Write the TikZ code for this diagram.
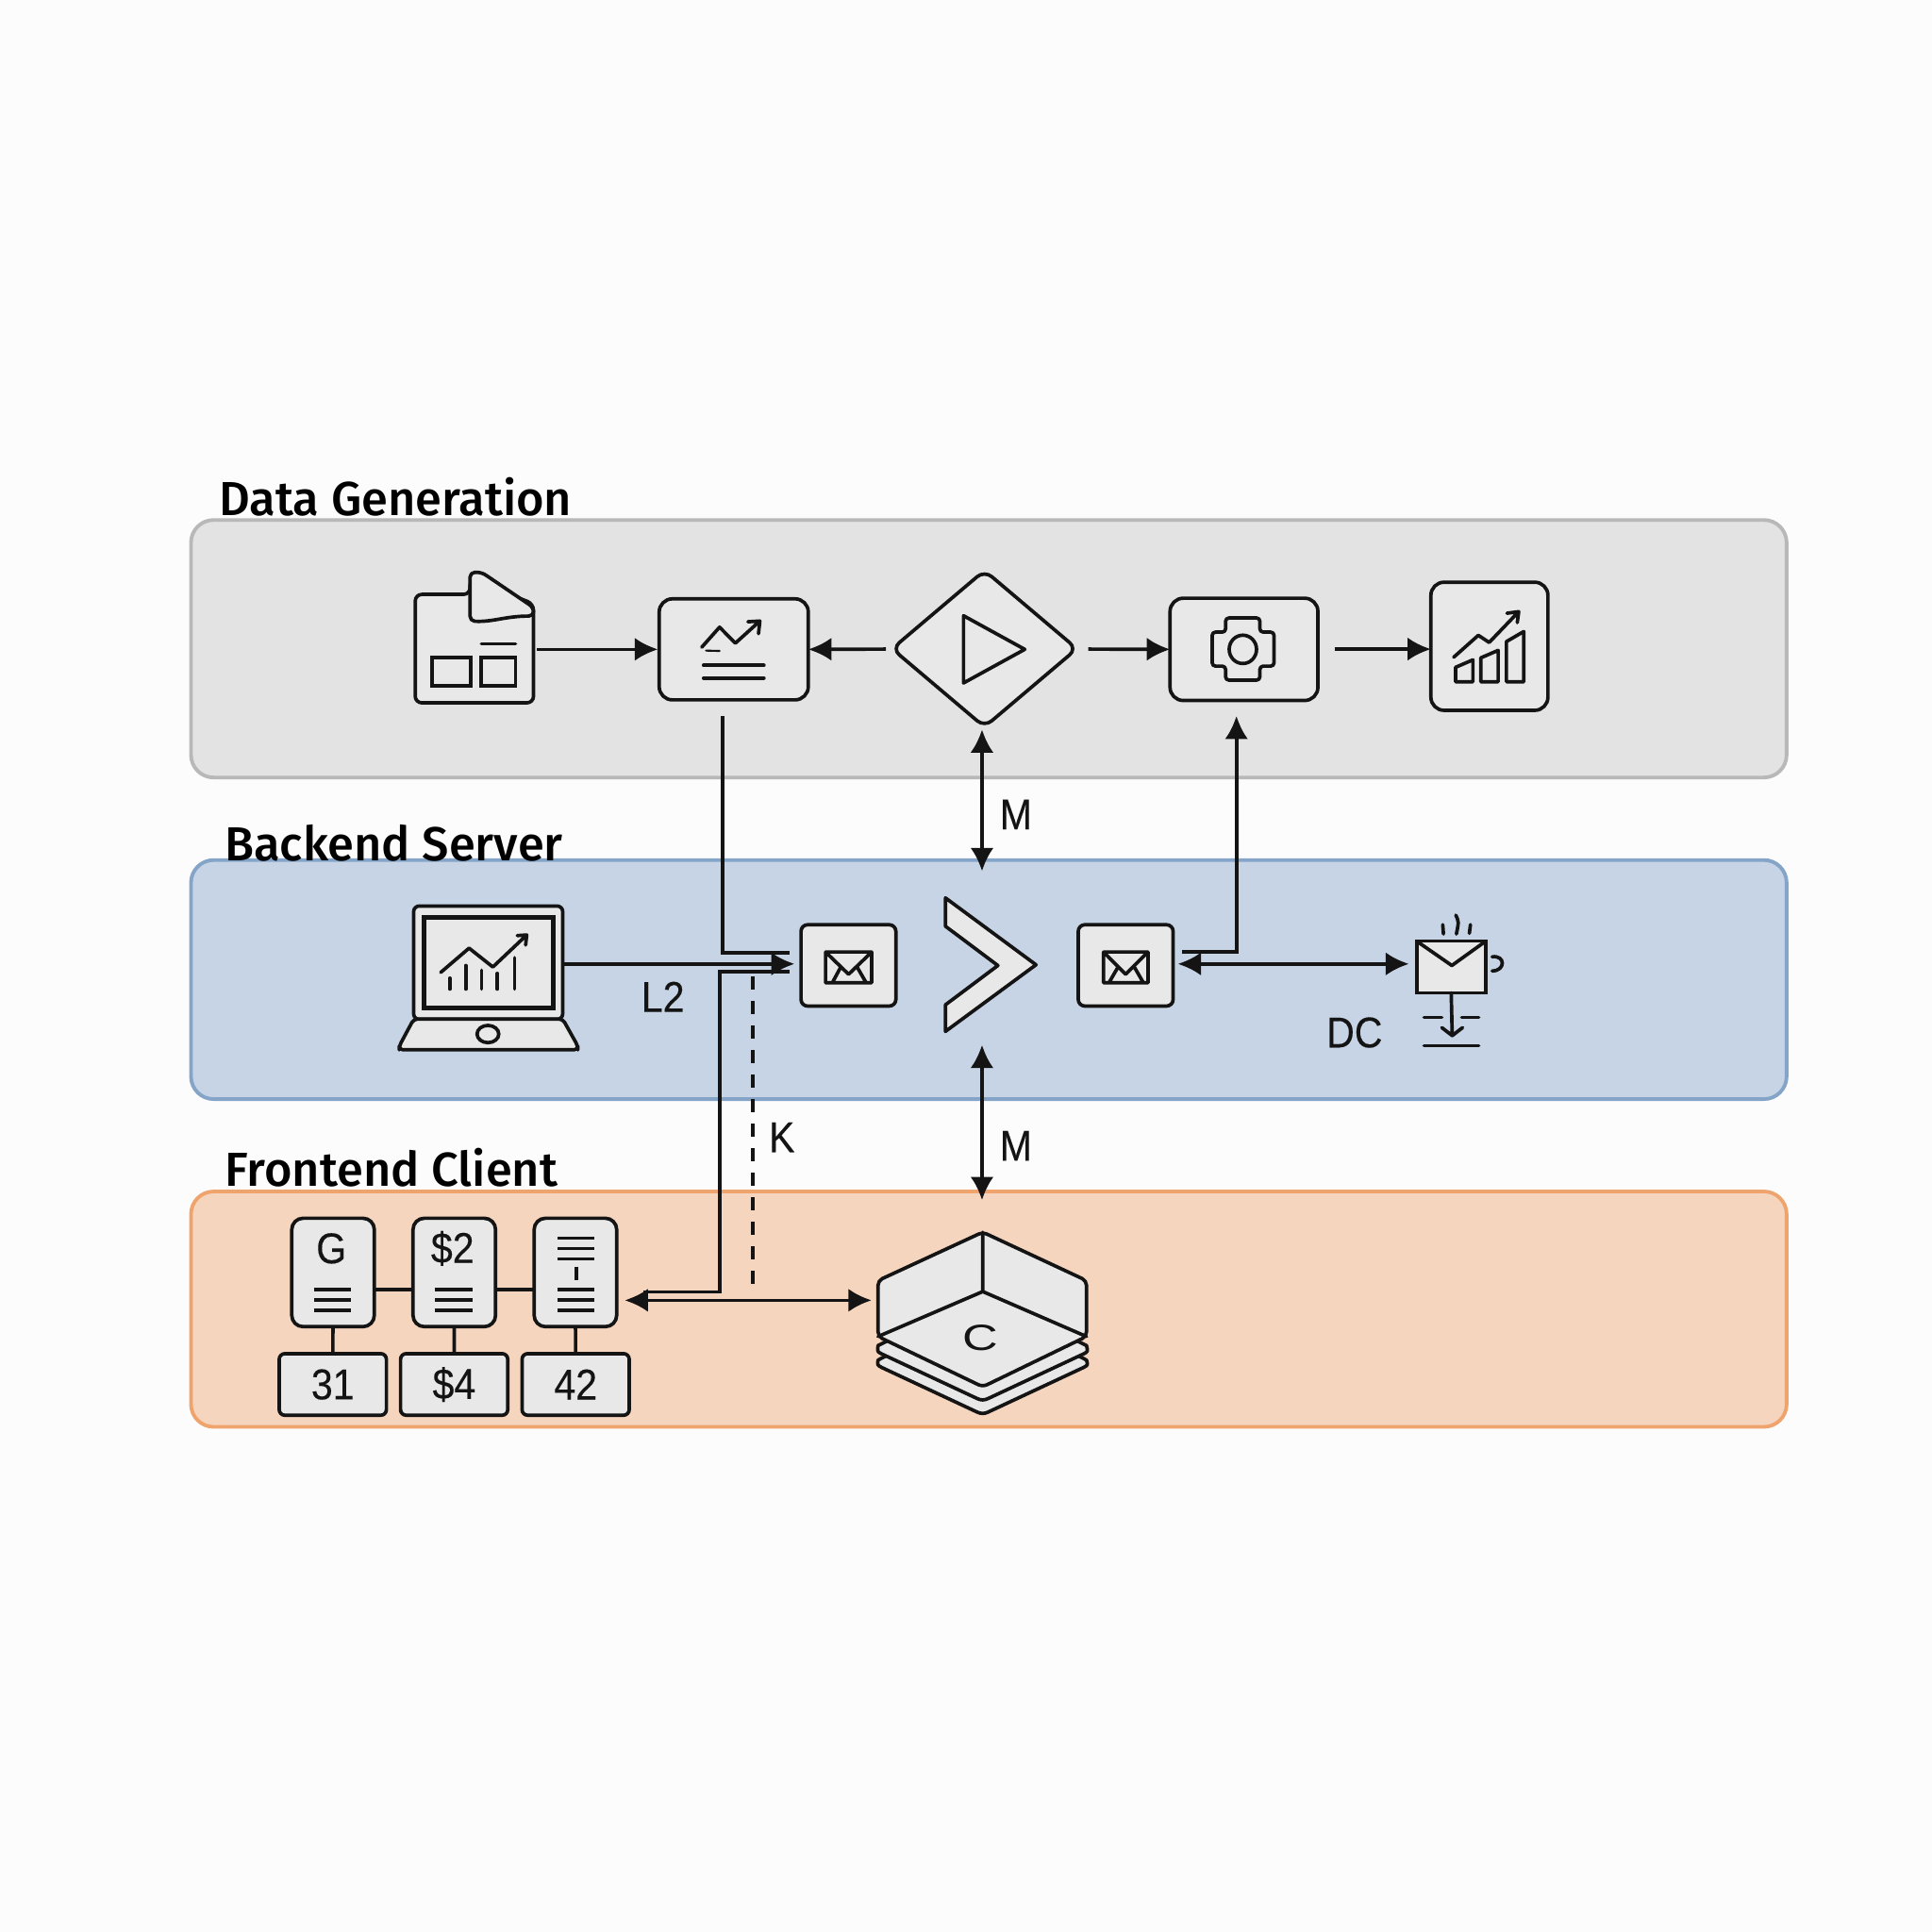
\documentclass[tikz,border=0pt]{standalone}
\usepackage{fontspec}
\setmainfont{Liberation Sans}
\newfontfamily\headfont{Fira Sans Medium}
\newfontfamily\labelfont[FakeStretch=0.9,FakeBold=0.2]{Liberation Sans}
\usetikzlibrary{positioning,shapes.geometric,arrows.meta}
\def\unitpx{0.01306cm}
\definecolor{ink}{HTML}{141414}
\definecolor{paper}{HTML}{E8E8E8}
\definecolor{dataFill}{HTML}{E3E3E3}
\definecolor{dataLine}{HTML}{B8B8B8}
\definecolor{backFill}{HTML}{C6D4E5}
\definecolor{backLine}{HTML}{85A5C8}
\definecolor{frontFill}{HTML}{F6D5BE}
\definecolor{frontLine}{HTML}{EFA46E}
\begin{document}
\begin{tikzpicture}[
  x=\unitpx,y=-\unitpx,
  ink,line width=1.05pt,
  band/.style={draw,line width=1.1pt,rounded corners=0.24cm,outer sep=0pt,inner sep=0pt,anchor=north west,minimum width=1295*\unitpx},
  title/.style={anchor=west,inner sep=0pt,text=black,font=\fontsize{14.4}{16}\headfont},
  tag/.style={inner sep=0pt,font=\fontsize{13}{14}\labelfont},
  tile/.style={draw=ink,fill=paper,rounded corners=0.14cm,inner sep=0pt,outer sep=0pt},
  card/.style={tile,rounded corners=0.12cm,minimum width=67*\unitpx,minimum height=88*\unitpx},
  amount/.style={tile,rounded corners=0.06cm,minimum width=87*\unitpx,minimum height=50*\unitpx,font=\fontsize{13}{14}\labelfont},
  mailbox/.style={tile,rounded corners=0.07cm,minimum width=77*\unitpx,minimum height=66*\unitpx},
  flow/.style={-{Latex[length=7pt,width=7pt]}},
  both/.style={{Latex[length=7pt,width=7pt]}-{Latex[length=7pt,width=7pt]}},
  glyph/.style={line cap=round,line join=round}
]
\useasboundingbox (0,0) rectangle (1568,1568);
\fill[white!99!black] (0,0) rectangle (1568,1568);
% the three bands
\node[band,draw=dataLine,fill=dataFill,minimum height=209*\unitpx] (bandData) at (155,422) {};
\node[band,draw=backLine,fill=backFill,minimum height=194*\unitpx] (bandBack) at (155,698) {};
\node[band,draw=frontLine,fill=frontFill,minimum height=191*\unitpx] (bandFront) at (155,967) {};
\node[title] (titleData) at (176.5,403.5) {Data Generation};
\node[title] (titleBack) at (181,684.5) {Backend Server};
\node[title] (titleFront) at (181.5,947.5) {Frontend Client};

% data generation row
\node[inner sep=0pt,outer sep=0pt,minimum width=96*\unitpx,minimum height=88*\unitpx] (sheet) at (385,526.5) {};
\draw[fill=paper,glyph,rounded corners=0.07cm] (381.5,482.4) -- (337,482.4) -- (337,570.4) -- (433,570.4) -- (433,490) -- (381.5,470) -- cycle;
\draw[fill=paper,glyph,rounded corners=0.05cm] (381.5,482.5) -- (381.5,464.5) -- (391,464.5) -- (433,493) -- (433,500) .. controls (410,500) and (400,505) .. (381.5,504) -- cycle;
\draw (350.7,533.4) rectangle (382.2,556.4) (390.7,533.4) rectangle (418.4,556.4);
\draw[glyph] (390.7,522.5) -- (418.4,522.5);
\node[tile,minimum width=121*\unitpx,minimum height=82*\unitpx] (report) at (595.5,527) {};
\draw[glyph] (569.5,525.3) -- (584,509) -- (596.8,522) -- (616.7,504) (607,504.6) -- (616.7,504) -- (615.6,514.3);
\draw[glyph,line width=0.6pt] (573,528) -- (584,528.3);
\draw[glyph] (571,540) -- (620,540) (571,550.3) -- (620,550.3);
\node[diamond,draw,fill=paper,rounded corners=0.1cm,inner sep=0pt,outer sep=0pt,minimum width=150*\unitpx,minimum height=127*\unitpx] (play) at (799,526.5) {};
\draw[glyph] (782,499.7) -- (831.7,527) -- (782,554.3) -- cycle;
\node[tile,minimum width=120*\unitpx,minimum height=83*\unitpx] (gear) at (1009.6,527) {};
\draw[glyph,rounded corners=0.035cm] (994.7,501.5) -- (1022.5,501.5) -- (1022.5,513) -- (1034,513) -- (1034,540.6) -- (1022.5,540.6) -- (1022.5,552) -- (994.7,552) -- (994.7,540.6) -- (983.8,540.6) -- (983.8,513) -- (994.7,513) -- cycle;
\draw (1008.7,527) ellipse (11.1 and 11.5);
\node[tile,minimum width=95*\unitpx,minimum height=104*\unitpx] (growth) at (1208.8,524.5) {};
\draw[glyph] (1181.3,553.3) -- (1181.3,541.6) -- (1195.4,535.5) -- (1195.4,553.3) -- cycle;
\draw[glyph] (1201.8,553.3) -- (1201.8,533.9) -- (1215.9,527.8) -- (1215.9,553.3) -- cycle;
\draw[glyph] (1222.6,553.3) -- (1222.6,520.7) -- (1236.7,512.5) -- (1236.7,553.3) -- cycle;
\draw[glyph] (1179.8,533.4) -- (1199.8,515.6) -- (1208.6,521.4) -- (1232.6,496.4) (1223,497.7) -- (1232.6,496.4) -- (1231.4,505.3);

% backend row
\node[inner sep=0pt,outer sep=0pt,minimum width=121*\unitpx,minimum height=92*\unitpx,draw,fill=paper,rounded corners=0.06cm] (laptop) at (396.2,781.3) {};
\draw[fill=paper,glyph,rounded corners=0.04cm] (335.8,827) -- (456.7,827) -- (469,849) -- (469,852) -- (324,852) -- (324,849) -- cycle;
\draw[line width=1.25pt] (344,744.5) rectangle (449,818);
\draw (396,839.2) ellipse (8.8 and 7);
\draw[glyph] (357.7,789.2) -- (380.7,769.5) -- (400,784.8) -- (427.5,758.8) (419.8,759.3) -- (427.5,758.8) -- (426.6,767);
\draw[glyph] (365,793.8) -- (365,802.7) (378,783.6) -- (378,802.7) (390.8,787.4) -- (390.8,802.7) (403.7,790) -- (403.7,802.7) (417.6,777.2) -- (417.6,802.7);
\node[mailbox] (mailIn) at (688.6,783.5) {};
\draw[glyph] (670,772.6) rectangle (707.5,797.6) (670,772.6) -- (688.7,790.7) -- (707.5,772.6) (675.5,797.6) -- (682,785.5) (703,797.6) -- (696,785.5);
\draw[fill=paper,glyph] (767.3,728.7) -- (840.8,783) -- (767.3,837.1) -- (767.3,815.5) -- (809.9,783.6) -- (767.3,751.7) -- cycle;
\coordinate (chevron) at (797,783);
\node[mailbox] (mailOut) at (913.6,783.5) {};
\draw[glyph] (895.6,772.6) rectangle (931.7,797.6) (895.6,772.6) -- (913.6,790.7) -- (931.7,772.6) (900,797.6) -- (907,785.5) (928,797.6) -- (921,785.5);
\node[draw,fill=paper,inner sep=0pt,outer sep=0pt,minimum width=56*\unitpx,minimum height=42*\unitpx] (cup) at (1177.8,784.8) {};
\draw[glyph] (1149.9,763.9) -- (1178.3,783.6) -- (1205.7,763.9);
\draw[glyph] (1170.9,750.4) -- (1171.5,758) (1181.5,742.7) .. controls (1184,748) .. (1182,758) (1193.4,750.4) -- (1192.5,757.5);
\draw[glyph] (1211,776.5) .. controls (1222,775) and (1222,788) .. (1211,788);
\draw[glyph] (cup.south) -- (1178.6,840.5) (1170.2,834) -- (1178.6,840.5) -- (1187,834);
\draw[glyph] (1155.7,825.7) -- (1170.2,825.7) (1186.3,825.7) -- (1200.2,825.7) (1155.7,848.6) -- (1200.2,848.6);

% frontend row
\node[card] (cardG) at (270.3,1032.7) {};
\node[card] (cardTwo) at (368.7,1032.7) {};
\node[card] (cardList) at (467,1032.7) {};
\node[amount] (amountA) at (270.1,1123.6) {31};
\node[amount] (amountB) at (368.6,1123.6) {\$4};
\node[amount] (amountC) at (467.2,1123.6) {42};
\node[tag] (labelG) at (268.9,1013.2) {G};
\node[tag] (labelTwo) at (367.3,1013.2) {\$2};
\foreach \cx in {269.7,368.2,467.3}
  \draw (\cx-15,1046.4) -- (\cx+15,1046.4) (\cx-15,1054.8) -- (\cx+15,1054.8) (\cx-15,1063.5) -- (\cx+15,1063.5);
\draw (452.4,1004.8) -- (482.3,1004.8) (452.4,1013.2) -- (482.3,1013.2) (452.4,1021.7) -- (482.3,1021.7) (467.6,1028) -- (467.6,1039.3);
\draw (cardG.east |- 0,1046.4) -- (cardTwo.west |- 0,1046.4) (cardTwo.east |- 0,1046.4) -- (cardList.west |- 0,1046.4);
\draw (cardG) -- (amountA) (cardTwo) -- (amountB) (cardList) -- (amountC);
\draw[fill=paper,glyph] (712.6,1103.8) -- (797.6,1060) -- (881.8,1103.8) .. controls (883,1108) .. (879,1110) -- (802,1146) .. controls (799,1147.5) and (796,1147.5) .. (793,1146) -- (716,1110) .. controls (712,1108) .. (712.6,1103.8) -- cycle;
\draw[fill=paper,glyph] (712.6,1092) -- (797.6,1050) -- (881.8,1092) .. controls (883,1097) .. (879,1099) -- (802,1135) .. controls (799,1136.5) and (796,1136.5) .. (793,1135) -- (716,1099) .. controls (712,1097) .. (712.6,1092) -- cycle;
\draw[fill=paper,glyph,rounded corners=0.05cm] (712.6,1084.7) -- (712.6,1039.3) -- (797.6,1000) -- (881.8,1039.3) -- (881.8,1084.7) -- (797.6,1125.5) -- cycle;
\draw[glyph] (797.6,1000) -- (797.6,1048.2) (712.6,1084.7) -- (797.6,1048.2) -- (881.8,1084.7);
\node[inner sep=0pt,xscale=1.35,font=\fontsize{11}{12}\selectfont] (labelC) at (795.5,1085.5) {C};

% connector ends that stop short of their nodes
\coordinate (reportOut) at (586.6,581);
\coordinate (mailUpper) at (641,773.4);
\coordinate (mailLower) at (641,788.7);
\coordinate (mailTip) at (644.9,782.3);
\coordinate (cardBend) at (584,1048.5);
\coordinate (cardEnd) at (522,1048.5);
\coordinate (cardTip) at (507,1055.3);
\coordinate (storeTip) at (707.4,1055.3);
\coordinate (dashTop) at (610.8,792.5);
\coordinate (dashEnd) at (610.8,1047);
\coordinate (playUnder) at (797,592);
\coordinate (chevTop) at (797,707);
\coordinate (chevUnder) at (797,848);
\coordinate (storeTop) at (797,974);
\coordinate (gearUnder) at (1003.5,581);
\coordinate (mailBend) at (1003.5,772.6);
\coordinate (mailStub) at (959.7,772.6);
\coordinate (mailOutTip) at (955.9,782.3);
\coordinate (cupTip) at (1143.5,782.3);

\draw[flow,shorten <=2.5*\unitpx,shorten >=1*\unitpx] (sheet.east |- report.west) -- (report.west);
\draw[flow] (719,526.8) -- (report.east);
\draw[flow] (883.3,526.8) -- (gear.west);
\draw[flow] (1083,526.8) -- (growth.west |- 0,526.8);
\draw[both] (playUnder) -- node[tag,pos=0.6,right=13*\unitpx] (tagTop) {M} (chevTop);
\draw[both] (chevUnder) -- node[tag,pos=0.65,right=13*\unitpx] (tagLow) {M} (storeTop);
\draw[flow] (laptop.east |- mailTip) -- (mailTip);
\draw (reportOut) |- (mailUpper);
\draw (mailLower) -| (cardBend) -- (cardEnd);
\draw[dash pattern=on 3.9pt off 3.5pt] (dashTop) -- (dashEnd);
\draw[both] (cardTip) -- (storeTip);
\draw[flow] (mailStub) -| (gearUnder);
\draw[both] (mailOutTip) -- (cupTip);
\node[tag] (tagL) at (538,809) {L2};
\node[tag] (tagK) at (634.5,923) {K};
\node[tag] (tagDC) at (1099.3,838) {DC};
\end{tikzpicture}
\end{document}
